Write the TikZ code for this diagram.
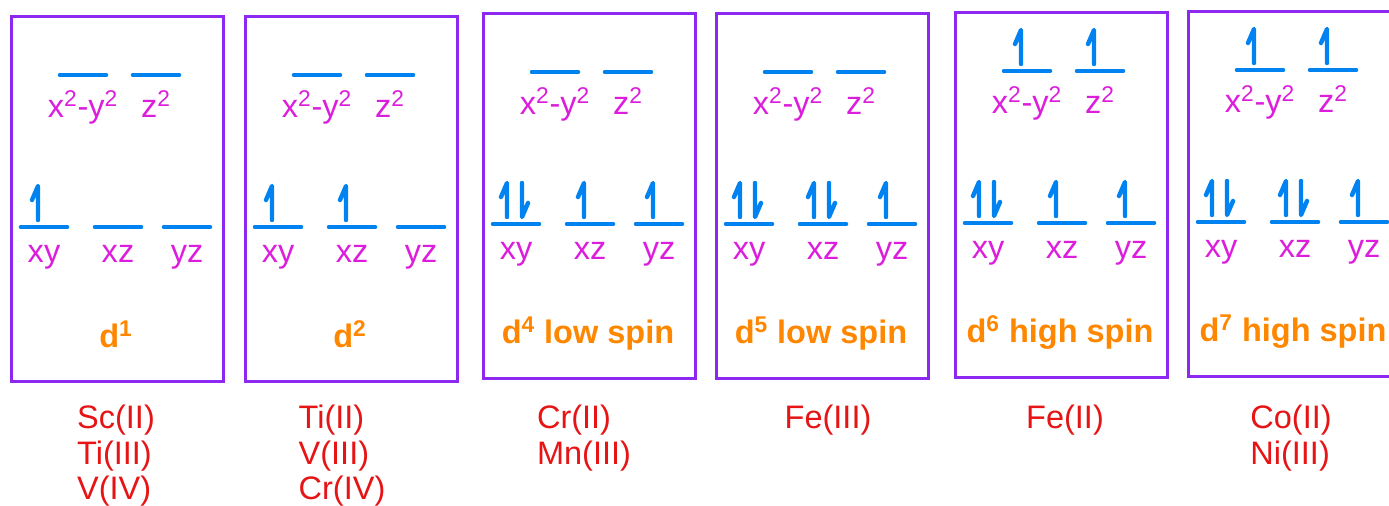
\documentclass[tikz,border=0pt]{standalone}
\usepackage{fontspec}
\setmainfont{Liberation Sans}
\usepackage{tikz}

\definecolor{boxpurple}{RGB}{140,40,240}
\definecolor{orbblue}{RGB}{0,130,240}
\definecolor{lblmag}{RGB}{220,30,220}
\definecolor{cfgorange}{RGB}{255,135,0}
\definecolor{ionred}{RGB}{230,20,20}

% half arrows (electrons) on an orbital, #2 = horizontal offset of the stem
\newcommand{\eup}[2]{\draw[spin,shift={(#1)}] (#2,-7) -- (#2,-41) -- (#2-6,-27);}
\newcommand{\edn}[2]{\draw[spin,shift={(#1)}] (#2,-41) -- (#2,-7) -- (#2+6,-21);}

\begin{document}
\begin{tikzpicture}[x=0.02cm,y=-0.02cm,
  box/.style={draw=boxpurple,line width=1.7pt,minimum width=4.24cm,minimum height=7.3cm,anchor=north west,inner sep=0pt},
  orb/.style={draw=orbblue,line width=2pt,line cap=round},
  spin/.style={draw=orbblue,line width=2.5pt,line cap=round,line join=round},
  lbl/.style={text=lblmag,font=\fontsize{18.5}{20}\selectfont,inner sep=0pt,anchor=base},
  cfg/.style={text=cfgorange,font=\fontsize{18.5}{20}\selectfont\bfseries,inner sep=0pt,anchor=base},
  ion/.style={text=ionred,font=\fontsize{18.5}{20.2}\selectfont,align=left,anchor=north,inner sep=0pt}]
\useasboundingbox (0,0) rectangle (1389,506);
\foreach \L/\T/\n in {10/15/1,244/15/2,482/12/3,715/12/4,954/11/5,1187/10/6}{
  \node[box] (b\n) at (\L,\T) {};
  % e_g and t_2g levels
  \coordinate (o\n-1) at (\L+73,\T+60);
  \coordinate (o\n-2) at (\L+146,\T+60);
  \coordinate (o\n-3) at (\L+34,\T+212);
  \coordinate (o\n-4) at (\L+108,\T+212);
  \coordinate (o\n-5) at (\L+177,\T+212);
  \foreach \k in {1,...,5}
    \draw[orb] ([xshift=-0.47cm]o\n-\k) -- ([xshift=0.47cm]o\n-\k);
  \node[lbl] (l\n-1) at (\L+73,\T+103) {x\textsuperscript{2}-y\textsuperscript{2}};
  \node[lbl] (l\n-2) at (\L+146,\T+103) {z\textsuperscript{2}};
  \node[lbl] (l\n-3) at (\L+34,\T+248) {xy};
  \node[lbl] (l\n-4) at (\L+108,\T+248) {xz};
  \node[lbl] (l\n-5) at (\L+177,\T+248) {yz};
}
% electrons
\eup{o1-3}{-6}
\eup{o2-3}{-6} \eup{o2-4}{-6}
\eup{o3-3}{-9} \edn{o3-3}{6} \eup{o3-4}{-6} \eup{o3-5}{-6}
\eup{o4-3}{-9} \edn{o4-3}{6} \eup{o4-4}{-9} \edn{o4-4}{6} \eup{o4-5}{-6}
\eup{o5-1}{-6} \eup{o5-2}{-6}
\eup{o5-3}{-9} \edn{o5-3}{6} \eup{o5-4}{-6} \eup{o5-5}{-6}
\eup{o6-1}{-6} \eup{o6-2}{-6}
\eup{o6-3}{-9} \edn{o6-3}{6} \eup{o6-4}{-9} \edn{o6-4}{6} \eup{o6-5}{-6}
% configurations
\node[cfg] (c1) at (116,348) {d\textsuperscript{1}};
\node[cfg] (c2) at (350,348) {d\textsuperscript{2}};
\node[cfg] (c3) at (588,344) {d\textsuperscript{4} low spin};
\node[cfg] (c4) at (821,344) {d\textsuperscript{5} low spin};
\node[cfg] (c5) at (1060,343) {d\textsuperscript{6} high spin};
\node[cfg] (c6) at (1293,342) {d\textsuperscript{7} high spin};
% ions
\node[ion] (i1) at (116,405) {Sc(II)\\Ti(III)\\V(IV)};
\node[ion] (i2) at (342,405) {Ti(II)\\V(III)\\Cr(IV)};
\node[ion] (i3) at (584,405) {Cr(II)\\Mn(III)};
\node[ion] (i4) at (828,405) {Fe(III)};
\node[ion] (i5) at (1065,405) {Fe(II)};
\node[ion] (i6) at (1291,405) {Co(II)\\Ni(III)};
\end{tikzpicture}
\end{document}
